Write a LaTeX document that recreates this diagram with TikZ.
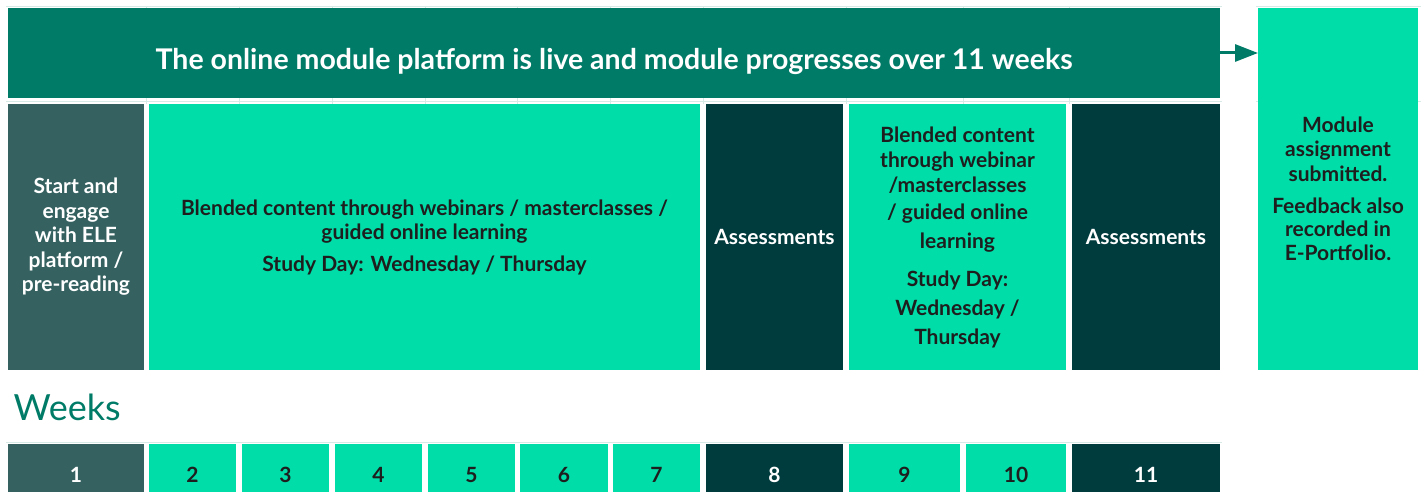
\documentclass[tikz,border=0pt]{standalone}
\usepackage{fontspec}
\setmainfont{Lato}
\usepackage{tikz}
\usetikzlibrary{arrows.meta}
\definecolor{banner}{RGB}{0,123,103}
\definecolor{mint}{RGB}{0,221,168}
\definecolor{slate}{RGB}{53,98,97}
\definecolor{deep}{RGB}{0,59,61}
\definecolor{ink}{RGB}{30,30,30}
\definecolor{tableline}{RGB}{215,234,230}
\tikzstyle{block} = [rectangle, anchor=north west, inner sep=0pt, outer sep=0pt, align=center, font=\bfseries\fontsize{21}{24.5}\selectfont]
\tikzstyle{lightblock} = [block, fill=mint, text=ink]
\tikzstyle{darkblock} = [block, fill=deep, text=white]
\tikzstyle{startblock} = [block, fill=slate, text=white]
\tikzstyle{bannerblock} = [block, fill=banner, minimum width=1212pt, minimum height=90pt]
\tikzstyle{weekbox} = [block, minimum height=62pt, font=\bfseries\fontsize{20}{24}\selectfont]
\tikzstyle{arrow} = [line width=3pt, draw=banner, -{Triangle[length=23pt,width=17pt]}]
\tikzstyle{tablegrid} = [draw=tableline, line width=0.7pt]

\begin{document}
\begin{tikzpicture}[x=1pt, y=-1pt]
    \useasboundingbox (0,0) rectangle (1424,492);
    % faint table lines behind the cells
    \foreach \gx in {146.5,239,332,425,517.5,610.5,703,846,963,1069}
        \draw [tablegrid] (\gx,6) -- (\gx,104);
    \foreach \gy in {6,101} {
        \draw [tablegrid] (6,\gy) -- (1222,\gy);
        \draw [tablegrid] (1256,\gy) -- (1421,\gy);
    }
    \draw [tablegrid] (6,442) -- (1222,442);
    % top banner and hand-in
    \node (live) [bannerblock] at (8,8) {};
    \node (livetext) [text=white, font=\bfseries\fontsize{28.5}{32}\selectfont] at ([yshift=-8pt]live.center) {The online module platform is live and module progresses over 11 weeks};
    \node (submit) [lightblock, minimum width=160pt, minimum height=362pt] at (1258,8) {Module\\assignment\\submitted.\\[8pt]Feedback also\\[-2pt]recorded in\\E-Portfolio.};
    \draw [arrow] (live.east) -- (live.east -| submit.west);
    % module phases
    \node (start) [startblock, minimum width=136pt, minimum height=266pt] at (8,104) {Start and\\engage\\with ELE\\platform /\\pre-reading};
    \node (blend1) [lightblock, minimum width=551pt, minimum height=266pt] at (149,104) {Blended content through webinars / masterclasses /\\guided online learning\\[7pt]Study Day: Wednesday / Thursday};
    \node (assess1) [darkblock, minimum width=137pt, minimum height=266pt] at (706,104) {Assessments};
    \node (blend2) [lightblock, minimum width=217pt, minimum height=266pt, font=\bfseries\fontsize{21}{25}\selectfont] at (849,104) {Blended content\\through webinar\\/masterclasses\\[2pt]/ guided online\\[4pt]learning\\[13pt]Study Day:\\[4pt]Wednesday /\\[4pt]Thursday};
    \node (assess2) [darkblock, minimum width=148pt, minimum height=266pt] at (1072,104) {Assessments};
    % week strip
    \node (weeks) [anchor=base west, text=banner, font=\fontsize{36}{40}\selectfont] at (10,420) {Weeks};
    \node (w1) [weekbox, startblock, minimum width=136pt] at (8,444) {1};
    \node (w2) [weekbox, lightblock, minimum width=87pt] at (149,444) {2};
    \node (w3) [weekbox, lightblock, minimum width=87pt] at (242,444) {3};
    \node (w4) [weekbox, lightblock, minimum width=87pt] at (335,444) {4};
    \node (w5) [weekbox, lightblock, minimum width=87pt] at (428,444) {5};
    \node (w6) [weekbox, lightblock, minimum width=88pt] at (520,444) {6};
    \node (w7) [weekbox, lightblock, minimum width=87pt] at (613,444) {7};
    \node (w8) [weekbox, darkblock, minimum width=137pt] at (706,444) {8};
    \node (w9) [weekbox, lightblock, minimum width=111pt] at (849,444) {9};
    \node (w10) [weekbox, lightblock, minimum width=100pt] at (966,444) {10};
    \node (w11) [weekbox, darkblock, minimum width=148pt] at (1072,444) {11};
\end{tikzpicture}
\end{document}
